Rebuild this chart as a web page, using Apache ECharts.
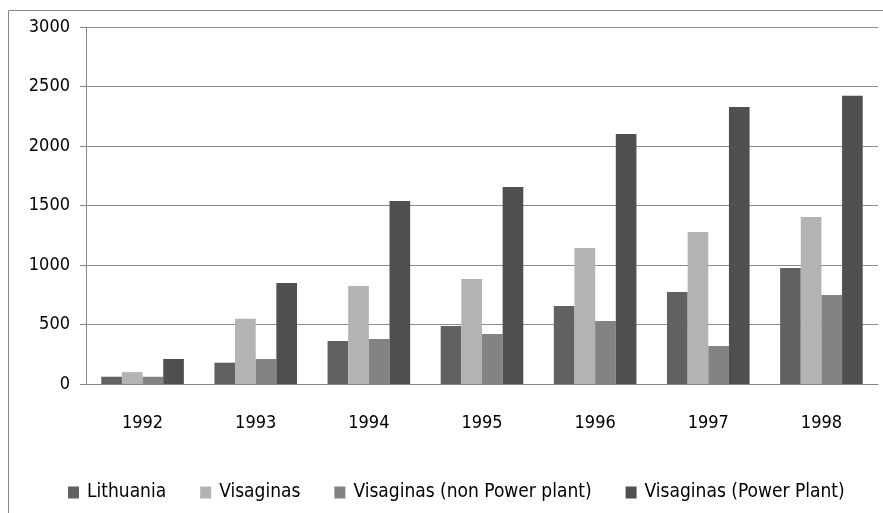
<!DOCTYPE html>
<html>
<head>
<meta charset="utf-8">
<script src="https://cdn.jsdelivr.net/npm/echarts@6/dist/echarts.min.js"></script>
<style>
  html, body { margin: 0; padding: 0; background: #fff; }
  #chart { width: 883px; height: 513px; }
</style>
</head>
<body>
<div id="chart"></div>
<script>
const years = ['1992', '1993', '1994', '1995', '1996', '1997', '1998'];
const lithuania = [61, 179, 361, 487, 655, 773, 975];
const visaginas = [100, 549, 824, 882, 1143, 1277, 1403];
const visaginasNonPP = [61, 210, 378, 420, 529, 319, 748];
const visaginasPP = [210, 849, 1538, 1655, 2101, 2328, 2422];
const yTicks = [0, 500, 1000, 1500, 2000, 2500, 3000];

const font = '"Liberation Sans Narrow", "DejaVu Sans Condensed", sans-serif';

function bar(name, data, color) {
  return {
    name: name,
    type: 'bar',
    data: data,
    barGap: '0%',
    barCategoryGap: '27%',
    itemStyle: { color: color }
  };
}

const chart = echarts.init(document.getElementById('chart'));
chart.setOption({
  animation: false,
  textStyle: { fontFamily: font },
  graphic: [{
    type: 'polyline',
    shape: { points: [[8.5, 520], [8.5, 10.5], [890, 10.5]] },
    style: { stroke: '#8a8a8a', lineWidth: 1, fill: null },
    silent: true
  }],
  grid: { left: 86, right: 5, top: 27, bottom: 129 },
  legend: {
    top: 478,
    left: 63,
    itemWidth: 11,
    itemHeight: 12,
    itemGap: 34,
    icon: 'rect',
    textStyle: { fontFamily: font, fontSize: 19, color: '#000', padding: [0, 0, 0, 3] }
  },
  xAxis: {
    type: 'category',
    data: years,
    axisLine: { lineStyle: { color: '#868686' } },
    axisTick: { length: 5, lineStyle: { color: '#868686' } },
    axisLabel: { fontFamily: font, fontSize: 18, color: '#000', margin: 30 }
  },
  yAxis: {
    type: 'value',
    min: 0,
    max: 3000,
    interval: 500,
    axisLine: { show: true, lineStyle: { color: '#868686' } },
    axisTick: { show: true, length: 6, lineStyle: { color: '#868686' } },
    axisLabel: {
      fontFamily: font, fontSize: 18, color: '#000', margin: 16,
      formatter: v => yTicks.includes(v) ? String(v) : ''
    },
    splitLine: { lineStyle: { color: '#8c8c8c' } }
  },
  series: [
    bar('Lithuania', lithuania, '#616161'),
    bar('Visaginas', visaginas, '#b3b3b3'),
    bar('Visaginas (non Power plant)', visaginasNonPP, '#838383'),
    bar('Visaginas (Power Plant)', visaginasPP, '#4f4f4f')
  ]
});
</script>
</body>
</html>
